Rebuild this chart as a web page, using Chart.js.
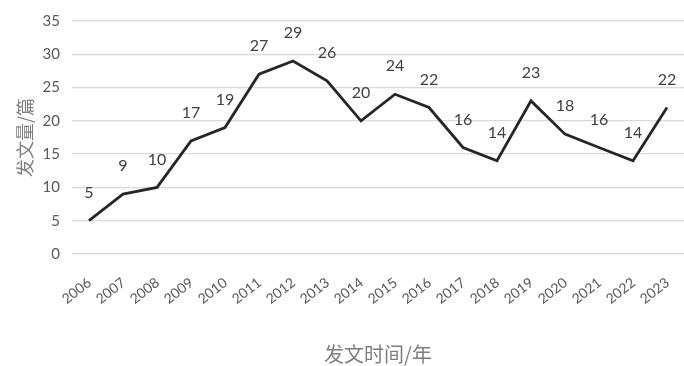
<!DOCTYPE html>
<html><head><meta charset="utf-8">
<script src="https://cdn.jsdelivr.net/npm/chart.js@4"></script>
<style>html,body{margin:0;padding:0;background:#fff}#wrap{width:684px;height:366px}</style>
</head><body><div id="wrap"><canvas id="c" width="684" height="366"></canvas></div>
<script>
const categories = ["2006","2007","2008","2009","2010","2011","2012","2013","2014","2015","2016","2017","2018","2019","2020","2021","2022","2023"];
const values = [5,9,10,17,19,27,29,26,20,24,22,16,14,23,18,16,14,22];
const yTicks = [0,5,10,15,20,25,30,35];
const xTitle = "发文时间/年";
const yTitle = "发文量/篇";

const labelPlugin = {
  id: 'pointLabels',
  afterDatasetsDraw(chart) {
    const ctx = chart.ctx;
    const meta = chart.getDatasetMeta(0);
    ctx.save();
    ctx.font = '16px Lato, "Open Sans", sans-serif';
    ctx.fillStyle = '#404040';
    ctx.textAlign = 'center';
    ctx.textBaseline = 'middle';
    meta.data.forEach((pt, i) => {
      ctx.fillText(String(values[i]), pt.x, pt.y - 28);
    });
    ctx.restore();
  }
};

const xTickPlugin = {
  id: 'xTicksAngled',
  afterDraw(chart) {
    const ctx = chart.ctx;
    const xs = chart.scales.x;
    const y0 = chart.chartArea.bottom + 27;
    ctx.save();
    ctx.font = '14px Lato, "Open Sans", sans-serif';
    ctx.fillStyle = '#595959';
    ctx.textAlign = 'right';
    ctx.textBaseline = 'middle';
    categories.forEach((lab, i) => {
      const x = xs.getPixelForTick(i);
      ctx.save();
      ctx.translate(x + 0.5, y0);
      ctx.rotate(-38 * Math.PI / 180);
      ctx.fillText(lab, 0, 0);
      ctx.restore();
    });
    ctx.restore();
  }
};

new Chart(document.getElementById('c'), {
  type: 'line',
  data: { labels: categories, datasets: [{ data: values, borderColor: '#262626', borderWidth: 2.8, pointRadius: 0, tension: 0, fill: false }] },
  options: {
    responsive: false, animation: false,
    layout: { padding: { top: 21, right: 0, bottom: 0, left: 10 } },
    plugins: { legend: { display: false }, tooltip: { enabled: false } },
    scales: {
      x: {
        offset: true,
        grid: { display: false },
        border: { display: false },
        ticks: { display: false, autoSkip: false },
        title: { display: true, text: xTitle, color: '#7f7f7f', font: { size: 20, family: '"Noto Sans CJK SC", sans-serif' }, padding: { top: 0, bottom: 0 } },
        afterFit(s) { s.height = 112; }
      },
      y: {
        min: 0, max: 35,
        afterBuildTicks(s) { s.ticks = yTicks.map(v => ({ value: v })); },
        grid: { color: '#d9d9d9', lineWidth: 1.3, drawTicks: false },
        border: { display: false },
        ticks: { color: '#595959', font: { size: 15, family: 'Lato, "Open Sans", sans-serif' }, padding: 12 },
        title: { display: true, text: yTitle, color: '#7f7f7f', font: { size: 18, family: '"Noto Sans CJK SC", sans-serif' }, padding: { bottom: 0 } },
        afterFit(s) { s.width = 62; }
      }
    }
  },
  plugins: [labelPlugin, xTickPlugin]
});
</script></body></html>
